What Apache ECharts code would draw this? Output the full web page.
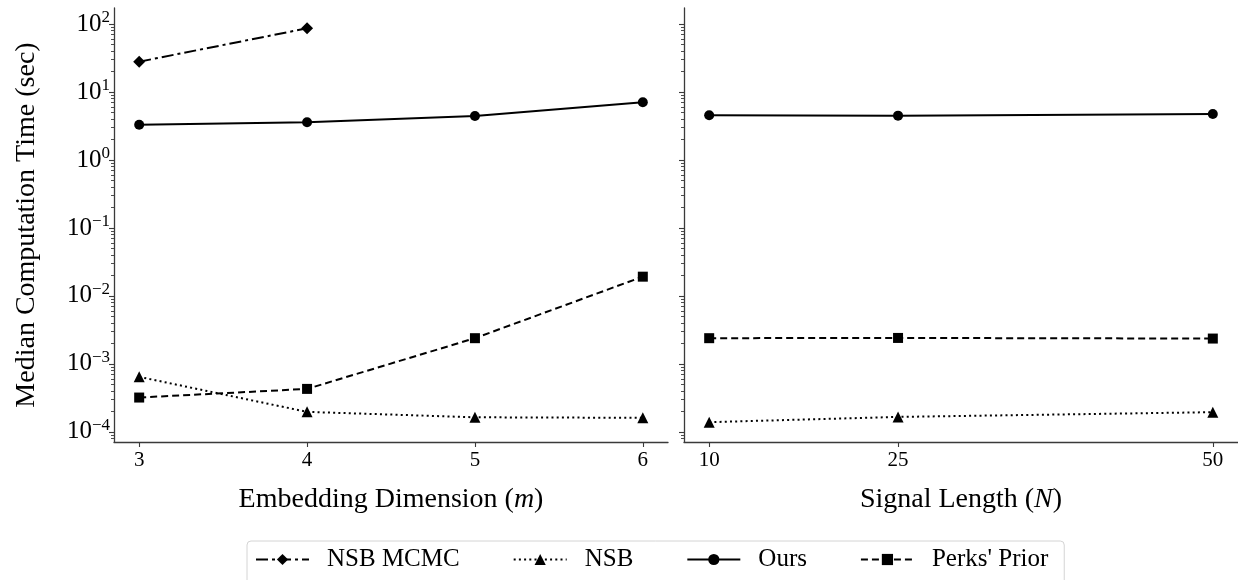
<!DOCTYPE html>
<html><head><meta charset="utf-8">
<script src="https://cdn.jsdelivr.net/npm/echarts@6/dist/echarts.min.js"></script>
<style>html,body{margin:0;padding:0;background:#fff}#c{width:1238px;height:580px}</style>
</head><body><div id="c"></div>
<script>
// ---- data ----
const mValues = [3, 4, 5, 6];
const nValues = [10, 25, 50];
const seriesNames = ['NSB MCMC', 'NSB', 'Ours', "Perks' Prior"];
const nsbMcmcM = [27.9, 86.4];            // only m = 3, 4
const nsbM = [6.45e-4, 1.97e-4, 1.64e-4, 1.61e-4];
const oursM = [3.30, 3.58, 4.43, 7.05];
const perksM = [3.2e-4, 4.29e-4, 2.39e-3, 1.92e-2];
const nsbN = [1.39e-4, 1.66e-4, 1.95e-4];
const oursN = [4.54, 4.49, 4.75];
const perksN = [2.39e-3, 2.41e-3, 2.36e-3];
const yMajorTicks = [1e-4, 1e-3, 1e-2, 1e-1, 1, 10, 100];
const xTicksM = [3, 4, 5, 6];
const xTicksN = [10, 25, 50];

const yMin = 7.1e-5, yMax = 172;
const yMinorTicks = [];
for (let e = -5; e <= 2; e++) {
  for (let k = 2; k <= 9; k++) {
    const v = k * Math.pow(10, e);
    if (v > yMin && v < yMax) yMinorTicks.push(v);
  }
}

const FONT = 'Liberation Serif';
const AX = '#3a3a3a';

function pairs(xs, ys) { return ys.map((y, i) => [xs[i], y]); }

function logLabel(v) {
  const l = Math.log10(v);
  const e = Math.round(l);
  if (Math.abs(l - e) > 1e-6) return '';
  return '10{s|' + (e < 0 ? '\u2212' : '') + Math.abs(e) + '}';
}

const styles = {
  'NSB MCMC': { symbol: 'diamond', symbolSize: 12, type: [12, 4, 3, 4] },
  'NSB': { symbol: 'triangle', symbolSize: 11, type: [2, 3.2] },
  'Ours': { symbol: 'circle', symbolSize: 10, type: 'solid' },
  "Perks' Prior": { symbol: 'rect', symbolSize: 10, type: [7, 4] }
};

function mk(name, gi, data) {
  const s = styles[name];
  return {
    name: name, type: 'line', xAxisIndex: gi, yAxisIndex: gi * 2,
    data: data, symbol: s.symbol, symbolSize: s.symbolSize,
    lineStyle: { color: '#000', width: 2, type: s.type },
    itemStyle: { color: '#000' }, showSymbol: true
  };
}

function xAxis(gi, mn, mx, ticks, nameRich) {
  return {
    type: 'value', gridIndex: gi, min: mn, max: mx,
    axisLine: { show: true, lineStyle: { color: AX, width: 1.3 } },
    axisTick: { show: true, length: 5, lineStyle: { color: AX, width: 1.1 }, customValues: ticks },
    axisLabel: { customValues: ticks, fontFamily: FONT, fontSize: 21, color: '#000', margin: 8 },
    splitLine: { show: false },
    name: nameRich, nameLocation: 'middle', nameGap: 44,
    nameTextStyle: { fontFamily: FONT, fontSize: 28, color: '#000',
      rich: { i: { fontFamily: FONT, fontSize: 28, fontStyle: 'italic', color: '#000' } } }
  };
}

function yMajor(gi, showLabel) {
  const ax = {
    type: 'log', logBase: 10, gridIndex: gi, min: yMin, max: yMax, position: 'left',
    axisLine: { show: true, lineStyle: { color: AX, width: 1.3 } },
    axisTick: { show: true, length: 5, lineStyle: { color: AX, width: 1.1 }, customValues: yMajorTicks },
    axisLabel: {
      show: showLabel, customValues: yMajorTicks, formatter: logLabel, margin: 4,
      fontFamily: FONT, fontSize: 25, color: '#000',
      rich: { s: { fontFamily: FONT, fontSize: 17, color: '#000', padding: [0, 0, 13, 0] } }
    },
    splitLine: { show: false }
  };
  if (showLabel) {
    ax.name = 'Median Computation Time (sec)';
    ax.nameLocation = 'middle';
    ax.nameGap = 73;
    ax.nameTextStyle = { fontFamily: FONT, fontSize: 28, color: '#000' };
  }
  return ax;
}

function yMinor(gi) {
  return {
    type: 'log', logBase: 10, gridIndex: gi, min: yMin, max: yMax, position: 'left',
    axisLine: { show: false },
    axisTick: { show: true, length: 3, lineStyle: { color: AX, width: 0.9 }, customValues: yMinorTicks },
    axisLabel: { show: false },
    splitLine: { show: false }
  };
}

const option = {
  animation: false,
  backgroundColor: '#fff',
  grid: [
    { left: 114, top: 8, width: 554, height: 434, outerBoundsMode: 'none', containLabel: false },
    { left: 684, top: 8, width: 554, height: 434, outerBoundsMode: 'none', containLabel: false }
  ],
  xAxis: [
    xAxis(0, 2.85, 6.15, xTicksM, 'Embedding Dimension ({i|m})'),
    xAxis(1, 8, 52, xTicksN, 'Signal Length ({i|N})')
  ],
  yAxis: [yMajor(0, true), yMinor(0), yMajor(1, false), yMinor(1)],
  legend: {
    left: 247, top: 541, orient: 'horizontal',
    itemWidth: 53, itemHeight: 14, itemGap: 53,
    padding: [6, 16, 12, 8],
    borderColor: '#d4d4d4', borderWidth: 1, borderRadius: 4, backgroundColor: '#fff',
    textStyle: { fontFamily: FONT, fontSize: 25, color: '#000', padding: [0, 0, 0, 13] },
    data: seriesNames
  },
  series: [
    mk('NSB MCMC', 0, pairs(mValues, nsbMcmcM)),
    mk('NSB', 0, pairs(mValues, nsbM)),
    mk('Ours', 0, pairs(mValues, oursM)),
    mk("Perks' Prior", 0, pairs(mValues, perksM)),
    mk('NSB', 1, pairs(nValues, nsbN)),
    mk('Ours', 1, pairs(nValues, oursN)),
    mk("Perks' Prior", 1, pairs(nValues, perksN))
  ]
};

const chart = echarts.init(document.getElementById('c'), null, { renderer: 'canvas' });
chart.setOption(option);
</script>
</body></html>
